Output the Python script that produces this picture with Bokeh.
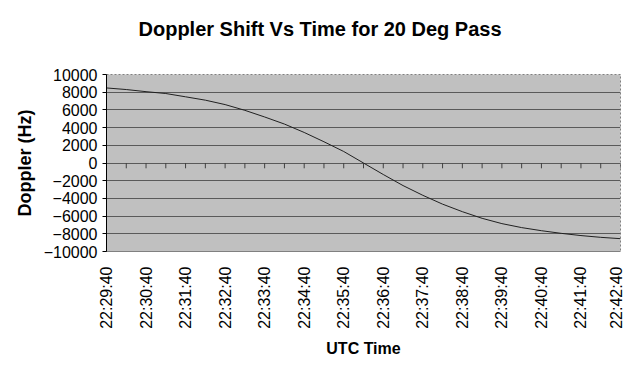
from math import pi
from bokeh.plotting import figure
from bokeh.models import Range1d, FixedTicker, Title
from bokeh.embed import file_html
from bokeh.resources import INLINE

# ---- data ----
times = ["22:29:40", "22:30:10", "22:30:40", "22:31:10", "22:31:40", "22:32:10",
         "22:32:40", "22:33:10", "22:33:40", "22:34:10", "22:34:40", "22:35:10",
         "22:35:40", "22:36:10", "22:36:40", "22:37:10", "22:37:40", "22:38:10",
         "22:38:40", "22:39:10", "22:39:40", "22:40:10", "22:40:40", "22:41:10",
         "22:41:40", "22:42:10", "22:42:40"]
doppler = [8480, 8300, 8060, 7850, 7480, 7100, 6600, 5950, 5200, 4400, 3450, 2400,
           1300, 0, -1300, -2550, -3650, -4650, -5500, -6250, -6850, -7300, -7650,
           -7950, -8200, -8400, -8550]
tick_labels = ["22:29:40", "22:30:40", "22:31:40", "22:32:40", "22:33:40", "22:34:40",
               "22:35:40", "22:36:40", "22:37:40", "22:38:40", "22:39:40", "22:40:40",
               "22:41:40", "22:42:40"]
y_ticks = [-10000, -8000, -6000, -4000, -2000, 0, 2000, 4000, 6000, 8000, 10000]
title_text = "Doppler Shift Vs Time for 20 Deg Pass"


def secs(t):
    h, m, s = (int(v) for v in t.split(":"))
    return h * 3600 + m * 60 + s


t0 = secs(times[0])
xs = [secs(t) - t0 for t in times]
tick_x = [secs(t) - t0 for t in tick_labels]

FONT = "Liberation Sans"

p = figure(width=624, height=359, output_backend="svg", toolbar_location=None,
           title=title_text,
           x_range=Range1d(xs[0], xs[-1]), y_range=Range1d(-10000, 10000),
           min_border_left=106, min_border_right=4, min_border_top=73,
           min_border_bottom=106)

p.background_fill_color = "#c0c0c0"
p.border_fill_color = "white"
p.outline_line_color = "#808080"
p.outline_line_dash = "2 2"

p.title.text_font = FONT
p.title.text_font_size = "20px"
p.title.text_font_style = "bold"
p.title.text_color = "black"
p.title.align = "left"
p.title.offset = 32
p.title.standoff = 31

# blank spacer between the title and the plot area
p.add_layout(Title(text=" ", text_font_size="8px", standoff=8), "above")

# grid
p.xgrid.visible = False
p.ygrid.ticker = FixedTicker(ticks=y_ticks)
p.ygrid.grid_line_color = "#5a5a5a"
p.ygrid.grid_line_width = 1

# y axis
p.yaxis.ticker = FixedTicker(ticks=y_ticks)
p.yaxis.axis_line_color = "black"
p.yaxis.major_tick_line_color = "black"
p.yaxis.major_tick_in = 0
p.yaxis.major_tick_out = 4
p.yaxis.minor_tick_line_color = None
p.yaxis.major_label_text_font = FONT
p.yaxis.major_label_text_font_size = "16px"
p.yaxis.major_label_text_color = "black"
p.yaxis.major_label_standoff = 5
p.yaxis.axis_label = "Doppler (Hz)"
p.yaxis.axis_label_text_font = FONT
p.yaxis.axis_label_text_font_size = "18px"
p.yaxis.axis_label_text_font_style = "bold"
p.yaxis.axis_label_text_color = "black"
p.yaxis.axis_label_standoff = 6

# x axis
p.xaxis.ticker = FixedTicker(ticks=tick_x)
p.xaxis.major_label_overrides = {x: lab for x, lab in zip(tick_x, tick_labels)}
p.xaxis.major_label_orientation = pi / 2
p.xaxis.axis_line_color = "#808080"
p.xaxis.major_tick_line_color = None
p.xaxis.minor_tick_line_color = None
p.xaxis.major_label_text_font = FONT
p.xaxis.major_label_text_font_size = "16px"
p.xaxis.major_label_text_color = "black"
p.xaxis.major_label_standoff = 9
p.xaxis.axis_label = "UTC Time"
p.xaxis.axis_label_text_font = FONT
p.xaxis.axis_label_text_font_size = "16px"
p.xaxis.axis_label_text_font_style = "bold"
p.xaxis.axis_label_text_color = "black"
p.xaxis.axis_label_standoff = 8

# tick marks on the zero line at each data time
p.segment(x0=xs[1:], y0=[0] * (len(xs) - 1), x1=xs[1:], y1=[-600] * (len(xs) - 1),
          line_color="#404040", line_width=1)

# curve
p.line(xs, doppler, line_color="#202020", line_width=1)

open("out.html", "w").write(file_html(p, INLINE))
